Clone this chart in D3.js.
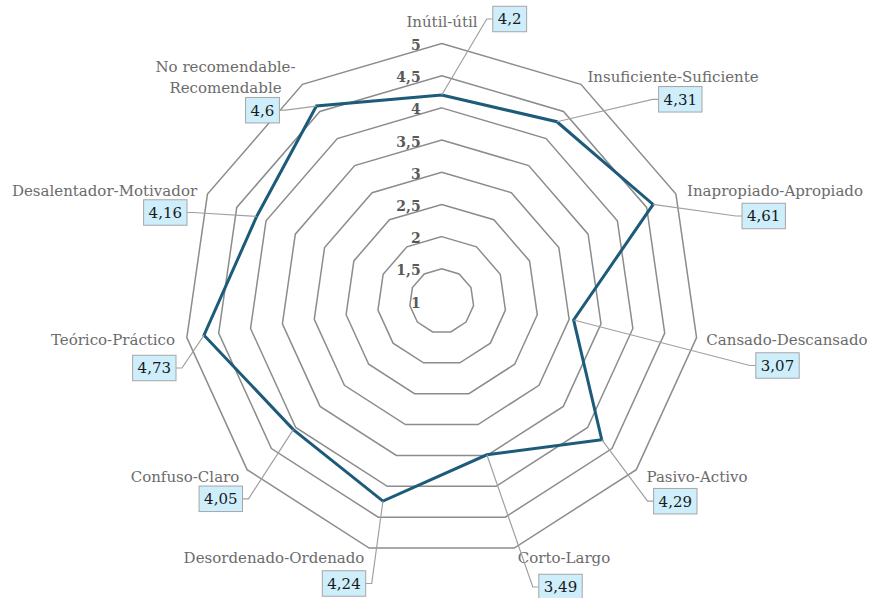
<!DOCTYPE html>
<html>
<head>
<meta charset="utf-8">
<script src="https://cdn.jsdelivr.net/npm/d3@7"></script>
<style>
  html, body { margin: 0; padding: 0; background: #ffffff; }
  svg { display: block; }
</style>
</head>
<body>
<svg id="chart" width="874" height="598"></svg>
<script>
// ---------- data ----------
const categories = [
  "Inútil-útil",
  "Insuficiente-Suficiente",
  "Inapropiado-Apropiado",
  "Cansado-Descansado",
  "Pasivo-Activo",
  "Corto-Largo",
  "Desordenado-Ordenado",
  "Confuso-Claro",
  "Teórico-Práctico",
  "Desalentador-Motivador",
  "No recomendable-Recomendable"
];
const values = [4.2, 4.31, 4.61, 3.07, 4.29, 3.49, 4.24, 4.05, 4.73, 4.16, 4.6];
const tickValues = [1, 1.5, 2, 2.5, 3, 3.5, 4, 4.5, 5];
const tickLabels = ["1", "1,5", "2", "2,5", "3", "3,5", "4", "4,5", "5"];

// ---------- layout (positions only, not data) ----------
const cx = 441.7, cy = 301, outerR = 257.5;
// category label lines and centre positions
const catLayout = [
  {lines: ["Inútil-útil"], x: 442, y: 22},
  {lines: ["Insuficiente-Suficiente"], x: 673, y: 77},
  {lines: ["Inapropiado-Apropiado"], x: 775, y: 191},
  {lines: ["Cansado-Descansado"], x: 787, y: 340},
  {lines: ["Pasivo-Activo"], x: 697, y: 477},
  {lines: ["Corto-Largo"], x: 564, y: 558},
  {lines: ["Desordenado-Ordenado"], x: 274, y: 558},
  {lines: ["Confuso-Claro"], x: 185, y: 477},
  {lines: ["Teórico-Práctico"], x: 113, y: 340},
  {lines: ["Desalentador-Motivador"], x: 104.5, y: 191},
  {lines: ["No recomendable-", "Recomendable"], x: 225.5, y: 77}
];
// value box centres, and which side the leader attaches to
const boxLayout = [
  {x: 509.7, y: 19,    side: "left"},
  {x: 680.3, y: 99.3,  side: "left"},
  {x: 763.7, y: 216,   side: "left"},
  {x: 777.5, y: 365.5, side: "left"},
  {x: 675.3, y: 501.2, side: "left"},
  {x: 560.5, y: 587,   side: "left"},
  {x: 344,   y: 583.5, side: "right"},
  {x: 220.8, y: 498.8, side: "right"},
  {x: 154.3, y: 368,   side: "right"},
  {x: 165.3, y: 212.5, side: "right"},
  {x: 262.5, y: 110.2, side: "right"}
];

const fmt = v => String(v).replace(".", ",");

const svg = d3.select("#chart");
const g = svg.append("g").attr("transform", `translate(${cx},${cy})`);

const r = d3.scaleLinear().domain([1, 5]).range([0, outerR]);
const angle = d3.scaleLinear().domain([0, categories.length]).range([0, 2 * Math.PI]);

const radial = d3.lineRadial()
  .angle((d, i) => angle(i))
  .radius(d => r(d))
  .curve(d3.curveLinearClosed);

// grid rings
const rings = tickValues.filter(t => t > 1);
g.selectAll("path.ring")
  .data(rings)
  .join("path")
  .attr("class", "ring")
  .attr("d", t => radial(categories.map(() => t)))
  .attr("fill", "none")
  .attr("stroke", "#8c8c8c")
  .attr("stroke-width", 1.5);

// tick labels
g.selectAll("text.tick")
  .data(tickValues)
  .join("text")
  .attr("class", "tick")
  .attr("x", -21)
  .attr("y", t => -r(t) + 6.5)
  .attr("text-anchor", "end")
  .attr("font-family", "'DejaVu Serif', serif")
  .attr("font-weight", "bold")
  .attr("font-size", 14)
  .attr("fill", "#595959")
  .text((t, i) => tickLabels[i]);

// point coordinates (absolute)
const pt = (v, i) => {
  const a = angle(i);
  return [cx + r(v) * Math.sin(a), cy - r(v) * Math.cos(a)];
};

// series line
g.append("path")
  .attr("d", radial(values))
  .attr("fill", "none")
  .attr("stroke", "#1d5b7a")
  .attr("stroke-width", 3)
  .attr("stroke-linejoin", "miter");

// category labels
const catG = svg.append("g");
categories.forEach((c, i) => {
  const L = catLayout[i];
  const lh = 20.5;
  const t = catG.append("text")
    .attr("text-anchor", "middle")
    .attr("font-family", "'DejaVu Serif', serif")
    .attr("font-size", 15)
    .attr("fill", "#6b6b6b");
  L.lines.forEach((ln, k) => {
    t.append("tspan")
      .attr("x", L.x)
      .attr("y", L.y + (k - (L.lines.length - 1) / 2) * lh)
      .attr("dy", "0.35em")
      .text(ln);
  });
});

// value labels with boxes and leader lines
const labG = svg.append("g");
values.forEach((v, i) => {
  const B = boxLayout[i];
  const txt = labG.append("text")
    .attr("x", B.x)
    .attr("y", B.y)
    .attr("dy", "0.36em")
    .attr("text-anchor", "middle")
    .attr("font-family", "'DejaVu Serif', serif")
    .attr("font-size", 15)
    .attr("fill", "#1a1a1a")
    .text(fmt(v));
  const w = txt.node().getComputedTextLength() + 10;
  const h = 25.5;
  labG.insert("rect", "text")
    .attr("x", B.x - w / 2)
    .attr("y", B.y - h / 2)
    .attr("width", w)
    .attr("height", h)
    .attr("fill", "#cdeefa")
    .attr("stroke", "#a6a6a6")
    .attr("stroke-width", 1);
  const p = pt(v, i);
  const edgeX = B.side === "left" ? B.x - w / 2 : B.x + w / 2;
  const elbowX = B.side === "left" ? edgeX - 6 : edgeX + 6;
  labG.insert("polyline", "rect")
    .attr("points", [[p[0], p[1]], [elbowX, B.y], [edgeX, B.y]].map(q => q.join(",")).join(" "))
    .attr("fill", "none")
    .attr("stroke", "#a0a0a0")
    .attr("stroke-width", 1.2);
});
</script>
</body>
</html>
